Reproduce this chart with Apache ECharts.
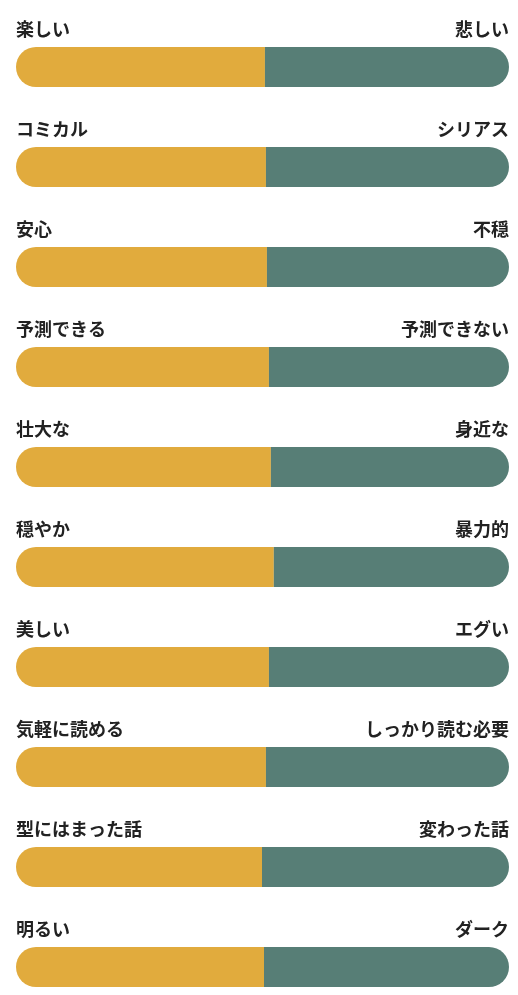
<!DOCTYPE html>
<html>
<head>
<meta charset="utf-8">
<script src="https://cdn.jsdelivr.net/npm/echarts@6/dist/echarts.min.js"></script>
<style>
  html, body { margin: 0; padding: 0; background: #fff; }
  #chart { width: 518px; height: 995px; }
</style>
</head>
<body>
<div id="chart"></div>
<script>
// 左右のラベル
const leftLabels = ['楽しい', 'コミカル', '安心', '予測できる', '壮大な', '穏やか', '美しい', '気軽に読める', '型にはまった話', '明るい'];
const rightLabels = ['悲しい', 'シリアス', '不穏', '予測できない', '身近な', '暴力的', 'エグい', 'しっかり読む必要', '変わった話', 'ダーク'];
// 割合(%)
const leftValues = [50.5, 50.7, 50.9, 51.3, 51.7, 52.3, 51.3, 50.7, 49.9, 50.3];
const rightValues = [49.5, 49.3, 49.1, 48.7, 48.3, 47.7, 48.7, 49.3, 50.1, 49.7];

const chart = echarts.init(document.getElementById('chart'), null, { renderer: 'canvas' });

const labelStyle = {
    show: true,
    color: '#222',
    fontSize: 18,
    fontWeight: 'bold',
    fontFamily: '"Noto Sans CJK JP", sans-serif',
    verticalAlign: 'middle'
};

const option = {
    animation: false,
    grid: {
        left: 16,
        right: 9,
        top: 67,
        height: 900
    },
    xAxis: {
        type: 'value',
        min: 0,
        max: 100,
        show: false
    },
    yAxis: {
        type: 'category',
        data: leftLabels,
        inverse: true,
        boundaryGap: false,
        show: false
    },
    series: [{
            name: 'left',
            type: 'bar',
            stack: 'total',
            barWidth: 40,
            data: leftValues,
            itemStyle: {
                color: '#E1AB3D',
                borderRadius: [20, 0, 0, 20]
            },
            label: Object.assign({}, labelStyle, {
                position: [0, -18],
                align: 'left',
                formatter: function (p) {
                    return leftLabels[p.dataIndex];
                }
            })
        },
        {
            name: 'right',
            type: 'bar',
            stack: 'total',
            barWidth: 40,
            data: rightValues,
            itemStyle: {
                color: '#577E76',
                borderRadius: [0, 20, 20, 0]
            },
            label: Object.assign({}, labelStyle, {
                position: ['100%', -18],
                align: 'right',
                formatter: function (p) {
                    return rightLabels[p.dataIndex];
                }
            })
        }
    ]
};

chart.setOption(option);
</script>
</body>
</html>
